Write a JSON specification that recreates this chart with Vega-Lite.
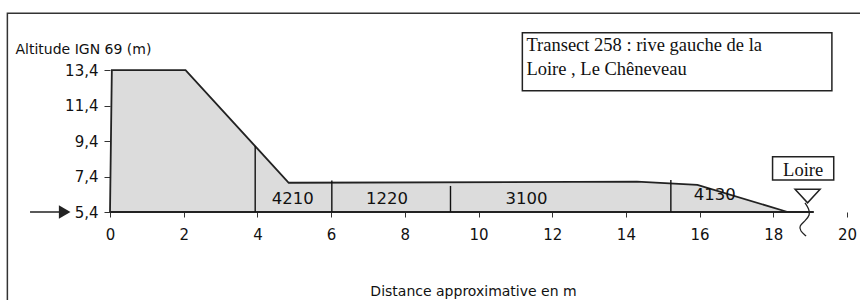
{
  "$schema": "https://vega.github.io/schema/vega-lite/v6.json",
  "width": 737,
  "height": 195,
  "autosize": {"type": "none"},
  "padding": {"left": 110, "top": 17, "right": 13, "bottom": 88},
  "background": "white",
  "config": {
    "view": {"stroke": null},
    "axis": {"grid": false, "domain": false, "tickColor": "#333", "labelColor": "#111", "titleColor": "#111", "labelFont": "DejaVu Sans", "titleFont": "DejaVu Sans", "titleFontWeight": "normal"}
  },
  "datasets": {
    "profile": [
      {"d": 0, "alt": 5.4},
      {"d": 0.05, "alt": 13.4},
      {"d": 2.05, "alt": 13.4},
      {"d": 4.85, "alt": 7.05},
      {"d": 14.3, "alt": 7.11},
      {"d": 15.94, "alt": 6.93},
      {"d": 18.39, "alt": 5.4}
    ],
    "dividers": [
      {"d": 3.94, "top": 9.12, "bottom": 5.4},
      {"d": 6.02, "top": 7.17, "bottom": 5.4},
      {"d": 9.24, "top": 6.87, "bottom": 5.4},
      {"d": 15.22, "top": 7.21, "bottom": 5.4}
    ],
    "segments": [
      {"d": 4.96, "y": 6.12, "t": "4210"},
      {"d": 7.52, "y": 6.12, "t": "1220"},
      {"d": 11.3, "y": 6.12, "t": "3100"},
      {"d": 16.41, "y": 6.36, "t": "4130"}
    ],
    "frame": [{"x1": -2.785, "x2": 22, "y1": 0, "y2": 16.61}],
    "boxes": [
      {"x1": 11.19, "x2": 19.59, "y1": 12.24, "y2": 15.51},
      {"x1": 17.98, "x2": 19.64, "y1": 7.21, "y2": 8.52}
    ],
    "titleText": [
      {"x": 11.3, "y": 14.51, "t": "Transect 258 : rive gauche de la"},
      {"x": 11.3, "y": 13.14, "t": "Loire , Le Chêneveau"}
    ],
    "loireText": [{"x": 18.81, "y": 7.43, "t": "Loire"}],
    "baseline": [{"x1": 0, "x2": 19.1, "y": 5.4}],
    "arrow": [{"x1": -2.17, "x2": -1.35, "y": 5.4}],
    "arrowHead": [{"x": -1.23, "y": 5.4}],
    "water": [{"x": 18.93, "y": 6.3}],
    "squiggle": [
      {"i": 0, "x": 18.86, "y": 5.91},
      {"i": 1, "x": 18.97, "y": 5.57},
      {"i": 2, "x": 19.0, "y": 5.23},
      {"i": 3, "x": 18.86, "y": 4.89},
      {"i": 4, "x": 18.7, "y": 4.61},
      {"i": 5, "x": 18.73, "y": 4.33},
      {"i": 6, "x": 18.89, "y": 4.04}
    ]
  },
  "layer": [
    {
      "data": {"name": "frame"},
      "mark": {"type": "rect", "filled": false, "stroke": "#333", "strokeWidth": 1.5, "clip": false},
      "encoding": {
        "x": {
          "field": "x1", "type": "quantitative", "scale": {"domain": [0, 20], "nice": false, "zero": false},
          "axis": {"values": [0, 2, 4, 6, 8, 10, 12, 14, 16, 18, 20], "format": "d", "tickSize": 5, "labelPadding": 10, "labelFontSize": 15, "labelOverlap": false, "labelBound": false, "labelFlush": false, "title": "Distance approximative en m", "titleFontSize": 14, "titleX": 363, "titleY": 83, "titleBaseline": "alphabetic", "titleAnchor": "middle"}
        },
        "x2": {"field": "x2"},
        "y": {
          "field": "y1", "type": "quantitative", "scale": {"domain": [5.4, 16.4], "nice": false, "zero": false},
          "axis": {"values": [5.4, 7.4, 9.4, 11.4, 13.4], "labelExpr": "replace(format(datum.value, '.1f'), '.', ',')", "tickSize": 6, "labelPadding": 6, "labelFontSize": 15, "labelFlush": false, "title": "Altitude IGN 69 (m)", "titleFontSize": 14, "titleAngle": 0, "titleAlign": "left", "titleBaseline": "alphabetic", "titleX": -95, "titleY": 36}
        },
        "y2": {"field": "y2"}
      }
    },
    {
      "data": {"name": "profile"},
      "mark": {"type": "area", "color": "#dcdcdc", "clip": false},
      "encoding": {
        "x": {"field": "d", "type": "quantitative"},
        "y": {"field": "alt", "type": "quantitative"},
        "y2": {"datum": 5.4}
      }
    },
    {
      "data": {"name": "profile"},
      "mark": {"type": "line", "color": "#222", "strokeWidth": 1.8, "clip": false},
      "encoding": {
        "x": {"field": "d", "type": "quantitative"},
        "y": {"field": "alt", "type": "quantitative"}
      }
    },
    {
      "data": {"name": "baseline"},
      "mark": {"type": "rule", "color": "#222", "strokeWidth": 1.8, "clip": false},
      "encoding": {
        "x": {"field": "x1", "type": "quantitative"},
        "x2": {"field": "x2"},
        "y": {"field": "y", "type": "quantitative"}
      }
    },
    {
      "data": {"name": "dividers"},
      "mark": {"type": "rule", "color": "#111", "strokeWidth": 1.4, "clip": false},
      "encoding": {
        "x": {"field": "d", "type": "quantitative"},
        "y": {"field": "top", "type": "quantitative"},
        "y2": {"field": "bottom"}
      }
    },
    {
      "data": {"name": "segments"},
      "mark": {"type": "text", "font": "DejaVu Sans", "fontSize": 16.5, "color": "#111", "baseline": "middle", "align": "center"},
      "encoding": {
        "x": {"field": "d", "type": "quantitative"},
        "y": {"field": "y", "type": "quantitative"},
        "text": {"field": "t"}
      }
    },
    {
      "data": {"name": "boxes"},
      "mark": {"type": "rect", "fill": "white", "stroke": "#222", "strokeWidth": 1.5, "clip": false},
      "encoding": {
        "x": {"field": "x1", "type": "quantitative"},
        "x2": {"field": "x2"},
        "y": {"field": "y1", "type": "quantitative"},
        "y2": {"field": "y2"}
      }
    },
    {
      "data": {"name": "titleText"},
      "mark": {"type": "text", "font": "Liberation Serif", "fontSize": 18.5, "color": "#111", "baseline": "alphabetic", "align": "left", "clip": false},
      "encoding": {
        "x": {"field": "x", "type": "quantitative"},
        "y": {"field": "y", "type": "quantitative"},
        "text": {"field": "t"}
      }
    },
    {
      "data": {"name": "loireText"},
      "mark": {"type": "text", "font": "Liberation Serif", "fontSize": 18.5, "color": "#111", "baseline": "alphabetic", "align": "center", "clip": false},
      "encoding": {
        "x": {"field": "x", "type": "quantitative"},
        "y": {"field": "y", "type": "quantitative"},
        "text": {"field": "t"}
      }
    },
    {
      "data": {"name": "arrow"},
      "mark": {"type": "rule", "color": "#222", "strokeWidth": 1.5, "clip": false},
      "encoding": {
        "x": {"field": "x1", "type": "quantitative"},
        "x2": {"field": "x2"},
        "y": {"field": "y", "type": "quantitative"}
      }
    },
    {
      "data": {"name": "arrowHead"},
      "mark": {"type": "point", "shape": "triangle-right", "filled": true, "color": "#222", "size": 180, "opacity": 1, "clip": false},
      "encoding": {
        "x": {"field": "x", "type": "quantitative"},
        "y": {"field": "y", "type": "quantitative"}
      }
    },
    {
      "data": {"name": "squiggle"},
      "mark": {"type": "line", "color": "#222", "strokeWidth": 1.3, "interpolate": "basis", "clip": false},
      "encoding": {
        "x": {"field": "x", "type": "quantitative"},
        "y": {"field": "y", "type": "quantitative"},
        "order": {"field": "i", "type": "quantitative"}
      }
    },
    {
      "data": {"name": "water"},
      "mark": {"type": "point", "shape": "M-1,-0.54L1,-0.54L0,0.54Z", "filled": true, "fill": "white", "stroke": "#222", "strokeWidth": 1.5, "size": 625, "opacity": 1, "clip": false},
      "encoding": {
        "x": {"field": "x", "type": "quantitative"},
        "y": {"field": "y", "type": "quantitative"}
      }
    }
  ]
}
